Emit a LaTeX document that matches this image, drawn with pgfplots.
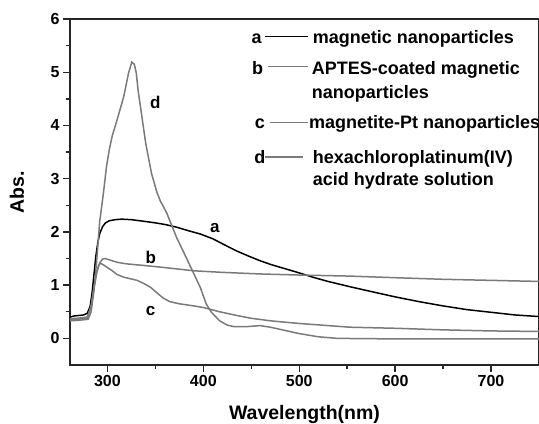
\documentclass[border=0pt]{standalone}
\usepackage{fontspec}
\setmainfont{Liberation Sans}
\usepackage{pgfplots}
\pgfplotsset{compat=1.18}
\definecolor{gr}{gray}{0.48}
\definecolor{ax}{gray}{0.15}
\begin{document}
\begin{tikzpicture}
\begin{axis}[scale only axis, width=469bp, height=346bp,
 xmin=261, xmax=750, ymin=-0.5, ymax=6,
 xtick={300,400,...,700}, ytick={0,1,...,6},
 minor x tick num=1, minor y tick num=1,
 tick align=outside, xtick pos=bottom, ytick pos=left,
 major tick length=7bp, minor tick length=4bp,
 axis line style={line width=1.6bp, color=ax},
 every tick/.style={line width=1.4bp, color=ax},
 tick label style={font=\fontsize{16bp}{19bp}\selectfont\bfseries},
 /pgf/number format/assume math mode=true,
 xlabel={Wavelength(nm)}, ylabel={Abs.},
 every axis x label/.style={at={(axis description cs:0.5,0)}, anchor=base, yshift=-54bp, font=\fontsize{19.5bp}{23bp}\selectfont\bfseries},
 every axis y label/.style={at={(axis description cs:-0.113,0.5)}, rotate=90, anchor=center, font=\fontsize{19.5bp}{23bp}\selectfont\bfseries},
 every axis plot/.append style={line width=1.5bp},
]
% a
\addplot[black] coordinates {(261,0.40)(265,0.42)(270,0.43)(275,0.44)(279,0.47)(282,0.6)(284,0.85)(286,1.2)(288,1.55)(290,1.8)(292,1.97)(295,2.1)(298,2.17)(302,2.21)(308,2.23)(315,2.24)(325,2.23)(338,2.2)(350,2.17)(360,2.14)(372,2.09)(385,2.02)(397,1.96)(410,1.87)(424,1.74)(435,1.64)(448,1.54)(459,1.46)(470,1.39)(485,1.31)(500,1.23)(514,1.15)(530,1.07)(553,0.97)(575,0.88)(600,0.78)(625,0.69)(650,0.61)(675,0.54)(700,0.49)(725,0.44)(750,0.41)};
% b
\addplot[gr] coordinates {(261,0.37)(270,0.38)(279,0.40)(283,0.6)(286,0.95)(289,1.25)(292,1.42)(295,1.49)(298,1.50)(303,1.47)(310,1.43)(320,1.40)(338,1.37)(360,1.33)(390,1.27)(420,1.24)(460,1.21)(500,1.19)(553,1.17)(600,1.14)(650,1.11)(700,1.09)(750,1.07)};
% c
\addplot[gr] coordinates {(261,0.35)(270,0.36)(279,0.38)(283,0.6)(286,0.95)(289,1.25)(291,1.38)(293,1.41)(296,1.38)(300,1.33)(305,1.27)(310,1.2)(317,1.15)(324,1.12)(331,1.09)(338,1.03)(345,0.96)(352,0.85)(358,0.76)(365,0.69)(375,0.65)(390,0.61)(400,0.58)(417,0.5)(435,0.43)(449,0.38)(470,0.33)(500,0.28)(553,0.21)(600,0.19)(650,0.16)(700,0.14)(750,0.13)};
% d
\addplot[gr] coordinates {(261,0.33)(270,0.34)(280,0.36)(283,0.5)(286,0.9)(289,1.5)(292,2.2)(296,2.75)(299,3.22)(302,3.55)(305,3.8)(310,4.1)(317,4.54)(322,4.98)(325.4,5.19)(328,5.15)(330,5.0)(332,4.66)(336,4.16)(340,3.66)(346,3.1)(351.5,2.75)(355,2.59)(362,2.35)(372,1.9)(380,1.6)(390,1.22)(397,0.95)(403,0.65)(408,0.5)(417,0.33)(425,0.25)(432,0.22)(445,0.22)(459,0.24)(470,0.21)(485,0.15)(500,0.09)(520,0.03)(540,0.0)(600,-0.01)(750,-0.01)};
% curve labels
\begin{scope}[every node/.style={font=\fontsize{17bp}{20bp}\selectfont\bfseries, anchor=base, inner sep=0pt}]
\node at (rel axis cs:0.309,0.3835) {a};
\node at (rel axis cs:0.1723,0.2939) {b};
\node at (rel axis cs:0.1721,0.1445) {c};
\node at (rel axis cs:0.1819,0.7419) {d};
\end{scope}
% legend
\begin{scope}[every node/.style={font=\fontsize{18bp}{22bp}\selectfont\bfseries, inner sep=0pt}]
\node[anchor=base] at (rel axis cs:0.398,0.930) {a};
\node[anchor=base] at (rel axis cs:0.3998,0.8382) {b};
\node[anchor=base] at (rel axis cs:0.4051,0.6841) {c};
\node[anchor=base] at (rel axis cs:0.4051,0.5829) {d};
\draw[black, line width=1.5bp] (rel axis cs:0.4158,0.949) -- (rel axis cs:0.5075,0.949);
\draw[gr, line width=1.5bp] (rel axis cs:0.4222,0.8621) -- (rel axis cs:0.5075,0.8621);
\draw[gr, line width=1.5bp] (rel axis cs:0.4264,0.7003) -- (rel axis cs:0.5075,0.7003);
\draw[gr, line width=1.5bp] (rel axis cs:0.4158,0.6012) -- (rel axis cs:0.4968,0.6012);
\node[anchor=base west] at (rel axis cs:0.5175,0.930) {magnetic nanoparticles};
\node[anchor=base west] at (rel axis cs:0.5153,0.8382) {APTES-coated magnetic};
\node[anchor=base west] at (rel axis cs:0.5153,0.7688) {nanoparticles};
\node[anchor=base west] at (rel axis cs:0.5096,0.6841) {magnetite-Pt nanoparticles};
\node[anchor=base west] at (rel axis cs:0.5175,0.5829) {hexachloroplatinum(IV)};
\node[anchor=base west] at (rel axis cs:0.5175,0.5202) {acid hydrate solution};
\end{scope}
\end{axis}
\pgfresetboundingbox
\path ([shift={(-70bp,-59bp)}]current axis.south west) rectangle ([shift={(0bp,19bp)}]current axis.north east);
\end{tikzpicture}
\end{document}
